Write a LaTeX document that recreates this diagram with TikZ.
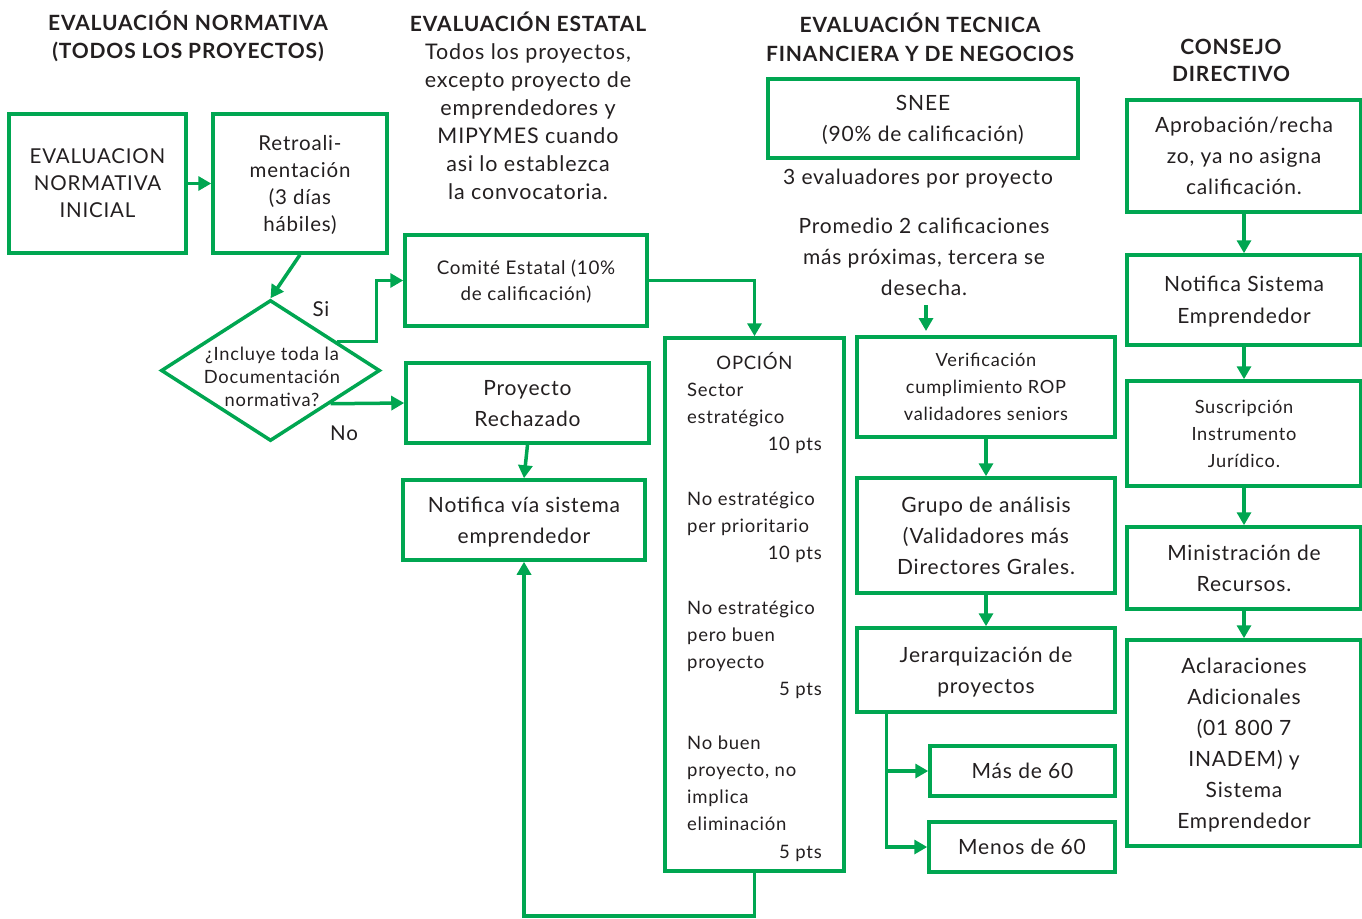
\documentclass[tikz,border=0pt]{standalone}
\usepackage{fontspec}
\setmainfont{Lato}[LetterSpace=4]
\usetikzlibrary{arrows.meta,shapes.geometric,calc}
\definecolor{gr}{HTML}{00A651}
\definecolor{tx}{HTML}{231F20}
\begin{document}
\begin{tikzpicture}[x=1pt,y=-1pt,
  box/.style={draw=gr, line width=3.5pt, rectangle, inner sep=0pt, align=center, text=tx, text depth=0pt},
  conn/.style={draw=gr, line width=3.5pt, -{Triangle[length=13pt,width=14pt]}},
  txt/.style={text=tx, inner sep=0pt, align=center},
  fA/.style={font={\fontsize{21}{31}\selectfont}},
  fB/.style={font={\fontsize{20.5}{27}\selectfont}},
  fC/.style={font={\fontsize{18.2}{27}\selectfont}},
  hd/.style={txt, font={\bfseries\fontsize{21}{28}\selectfont}},
  ol/.style={txt, anchor=base west, font={\fontsize{18.5}{27}\selectfont}},
  orr/.style={txt, anchor=base east, font={\fontsize{18.5}{27}\selectfont}}]
\useasboundingbox (0,0) rectangle (1362,918);

% headers
\node[hd] (h1) at (188,36) {EVALUACIÓN NORMATIVA\\(TODOS LOS PROYECTOS)};
\node[hd] (h2) at (528,22) {EVALUACIÓN ESTATAL};
\node[txt,font={\fontsize{21.5}{28}\selectfont}] (desc) at (528,122) {Todos los proyectos,\\excepto proyecto de\\emprendedores y\\MIPYMES cuando\\asi lo establezca\\la convocatoria.};
\node[hd,font={\bfseries\fontsize{21}{29}\selectfont}] (h3) at (920,37) {EVALUACIÓN TECNICA\\FINANCIERA Y DE NEGOCIOS};
\node[hd,font={\bfseries\fontsize{21}{27}\selectfont}] (h4) at (1231,60) {CONSEJO\\DIRECTIVO};

% column 1
\node[box,fB,minimum width=177pt,minimum height=139pt] (eni) at (97.5,183.5) {EVALUACION\\NORMATIVA\\INICIAL};
\node[box,fB,minimum width=174pt,minimum height=139pt] (retro) at (300,183.5) {Retroali-\\mentación\\(3 días\\hábiles)};
\node[diamond,draw=gr,line width=3.5pt,minimum width=219pt,minimum height=141pt,inner sep=0pt] (dec) at (270.5,370.5) {};
\node[txt,font={\fontsize{18.3}{23}\selectfont}] (dect) at (272,377) {¿Incluye toda la\\Documentación\\normativa?};
\node[txt,fB] (si) at (321,309) {Si};
\node[txt,fB] (no) at (344,433) {No};

% column 2
\node[box,font={\fontsize{18.8}{26}\selectfont},minimum width=242pt,minimum height=91pt] (comite) at (526,280.5) {Comité Estatal (10\%\\de calificación)};
\node[box,fA,minimum width=243pt,minimum height=80pt] (rech) at (527.5,403) {Proyecto\\Rechazado};
\node[box,fA,minimum width=242pt,minimum height=80pt] (notv) at (524,520) {Notifica vía sistema\\emprendedor};

% OPCION
\node[box,minimum width=179pt,minimum height=533pt] (opc) at (754.5,604.5) {};
\node[txt,anchor=base,font={\fontsize{18.5}{27}\selectfont}] (o0) at (754.5,369) {OPCIÓN};
\node[ol] (o1) at (687,396) {Sector};
\node[ol] (o2) at (687,423) {estratégico};
\node[orr] (o3) at (822,450) {10 pts};
\node[ol] (o4) at (687,505) {No estratégico};
\node[ol] (o5) at (687,532) {per prioritario};
\node[orr] (o6) at (822,559) {10 pts};
\node[ol] (o7) at (687,614) {No estratégico};
\node[ol] (o8) at (687,641) {pero buen};
\node[ol] (o9) at (687,668) {proyecto};
\node[orr] (o10) at (822,695) {5 pts};
\node[ol] (o11) at (687,749) {No buen};
\node[ol] (o12) at (687,776) {proyecto, no};
\node[ol] (o13) at (687,803) {implica};
\node[ol] (o14) at (687,830) {eliminación};
\node[orr] (o15) at (822,858) {5 pts};

% column 3
\node[box,fA,minimum width=310pt,minimum height=79pt] (snee) at (923,118.5) {SNEE\\(90\% de calificación)};
\node[txt,font={\fontsize{21}{31}\selectfont}] (tres) at (918,179) {3 evaluadores por proyecto};
\node[txt,fA] (prom) at (924,257) {Promedio 2 calificaciones\\más próximas, tercera se\\desecha.};
\node[box,fC,minimum width=258pt,minimum height=100pt] (verif) at (986,387) {Verificación\\cumplimiento ROP\\validadores seniors};
\node[box,fA,minimum width=258pt,minimum height=115pt] (grupo) at (986,535.5) {Grupo de análisis\\(Validadores más\\Directores Grales.};
\node[box,fA,minimum width=258pt,minimum height=84pt] (jer) at (986,670) {Jerarquización de\\proyectos};
\node[box,fA,minimum width=185pt,minimum height=50pt] (mas) at (1022.5,771) {Más de 60};
\node[box,fA,minimum width=186pt,minimum height=50pt] (menos) at (1022,847) {Menos de 60};

% column 4
\node[box,fA,minimum width=234pt,minimum height=112pt] (aprob) at (1244,156) {Aprobación/recha\\zo, ya no asigna\\calificación.};
\node[box,font={\fontsize{21}{32}\selectfont},minimum width=234pt,minimum height=90pt] (notsis) at (1244,300) {Notifica Sistema\\Emprendedor};
\node[box,fC,minimum width=234pt,minimum height=105pt] (susc) at (1244,433.5) {Suscripción\\Instrumento\\Jurídico.};
\node[box,fA,minimum width=234pt,minimum height=82pt] (minis) at (1244,568) {Ministración de\\Recursos.};
\node[box,fA,minimum width=234pt,minimum height=206pt] (acl) at (1244,743) {Aclaraciones\\Adicionales\\(01 800 7\\INADEM) y\\Sistema\\Emprendedor};

% connectors
\draw[conn] (eni) -- (retro);
\draw[conn] (retro.south) -- (dec.north);
\draw[conn] ($(dec.north)!0.6!(dec.east)$) -- ++(39,0) |- (comite.west);
\draw[conn] ($(dec.east)!0.46!(dec.south)$) -- (rech.west);
\draw[conn] (rech.south) -- (notv.north);
\draw[conn] (comite.east) -| (opc.north);
\coordinate (lb) at (754.5,916);
\draw[conn] (opc.south) -- (lb) -| (notv.south);

\coordinate (pa) at (926,305);
\coordinate (pb) at (926,331);
\draw[conn] (pa) -- (pb);
\draw[conn] (verif) -- (grupo);
\draw[conn] (grupo) -- (jer);
\coordinate (jl) at ($(jer.south west)+(31,0)$);
\draw[conn] (jl) |- (mas.west);
\draw[conn] (jl) |- (menos.west);

\draw[conn] (aprob) -- (notsis);
\draw[conn] (notsis) -- (susc);
\draw[conn] (susc) -- (minis);
\draw[conn] (minis) -- (acl);
\end{tikzpicture}
\end{document}
